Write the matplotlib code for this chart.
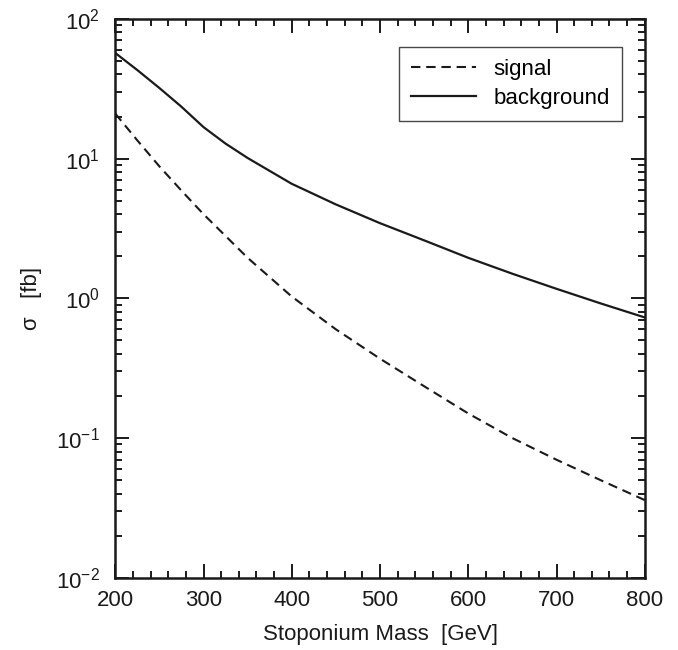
import matplotlib.pyplot as plt
from matplotlib.ticker import MultipleLocator, LogLocator

plt.rcParams['font.family'] = ['Liberation Sans', 'DejaVu Sans']

# Cross sections vs stoponium mass
mass_bg = [200, 225, 250, 275, 300, 325, 350, 400, 450, 500, 550, 600, 650, 700, 750, 800]
sigma_bg = [57, 43, 32, 23.5, 16.8, 12.8, 10.1, 6.6, 4.7, 3.45, 2.6, 1.95, 1.5, 1.17, 0.92, 0.73]

mass_sig = [200, 225, 250, 275, 300, 350, 400, 450, 500, 550, 600, 650, 700, 750, 800]
sigma_sig = [21, 13.5, 8.8, 5.9, 4.0, 1.95, 1.03, 0.6, 0.37, 0.235, 0.15, 0.10, 0.070, 0.050, 0.036]

fig = plt.figure(figsize=(6.78, 6.5), dpi=100)
ax = fig.add_axes([0.170, 0.111, 0.781, 0.860])

ax.plot(mass_sig, sigma_sig, color='#1a1a1a', lw=1.5, dashes=(4.5, 2.8), label='signal')
ax.plot(mass_bg, sigma_bg, color='#1a1a1a', lw=1.6, label='background')

ax.set_yscale('log')
ax.set_xlim(200, 800)
ax.set_ylim(1e-2, 1e2)

ax.xaxis.set_major_locator(MultipleLocator(100))
ax.xaxis.set_minor_locator(MultipleLocator(20))
ax.yaxis.set_major_locator(LogLocator(base=10, numticks=10))
ax.yaxis.set_minor_locator(LogLocator(base=10, subs=range(2, 10), numticks=10))

ax.tick_params(which='both', direction='in', top=True, right=True, width=1.4, colors='#1a1a1a')
ax.tick_params(which='major', length=10, labelsize=16)
ax.tick_params(axis='x', which='major', pad=9)
ax.tick_params(axis='y', which='major', pad=11)
ax.tick_params(which='minor', length=5)
for s in ax.spines.values():
    s.set_linewidth(1.8)
    s.set_color('#1a1a1a')

ax.set_xlabel('Stoponium Mass  [GeV]', fontsize=16, color='#1a1a1a', labelpad=9)
ax.set_ylabel('σ   [fb]', fontsize=16, color='#1a1a1a', labelpad=10)

leg = ax.legend(loc='upper right', fontsize=16, frameon=True, fancybox=False,
                edgecolor='#1a1a1a', handlelength=2.9, borderpad=0.55,
                labelspacing=0.35, handletextpad=0.8, borderaxespad=0,
                bbox_to_anchor=(0.957, 0.950))
leg.get_frame().set_linewidth(1.0)

fig.savefig('out.png', dpi=100)
